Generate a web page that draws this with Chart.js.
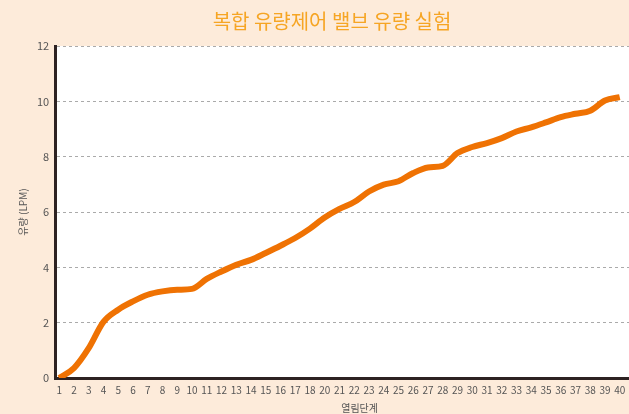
<!DOCTYPE html>
<html>
<head>
<meta charset="utf-8">
<script src="https://cdn.jsdelivr.net/npm/chart.js@4"></script>
<style>
  html, body { margin: 0; padding: 0; background: #FDEBDA; overflow: hidden; }
  #wrap { width: 629px; height: 414px; overflow: hidden; position: relative; }
  #box { width: 664px; height: 414px; }
</style>
</head>
<body>
<div id="wrap"><div id="box"><canvas id="c" width="664" height="414"></canvas></div></div>
<script>
const chartTitle = '복합 유량제어 밸브 유량 실험';
const xTitle = '열림단계';
const yTitle = '유량 (LPM)';
const stepLabels = ['1','2','3','4','5','6','7','8','9','10','11','12','13','14','15','16','17','18','20','21','22','23','24','25','26','27','28','29','30','31','32','33','34','35','36','37','38','39','40'];
const flowValues = [0.0,0.36,1.08,2.03,2.47,2.77,3.01,3.13,3.19,3.22,3.58,3.85,4.09,4.27,4.52,4.78,5.06,5.40,5.80,6.11,6.36,6.74,6.99,7.11,7.41,7.61,7.67,8.13,8.35,8.49,8.67,8.91,9.06,9.24,9.43,9.55,9.66,10.03,10.15];
const yTicks = [0,2,4,6,8,10,12];

const FONT = '"Noto Sans CJK KR", "Noto Sans", sans-serif';

const bgPlugin = {
  id: 'bg',
  beforeDraw(chart) {
    const { ctx, chartArea: a } = chart;
    ctx.save();
    ctx.fillStyle = '#FDEBDA';
    ctx.fillRect(0, 0, chart.width, chart.height);
    ctx.fillStyle = '#FFFFFF';
    ctx.fillRect(a.left, a.top, a.right - a.left, a.bottom - a.top);
    ctx.restore();
  }
};

new Chart(document.getElementById('c'), {
  type: 'line',
  data: {
    datasets: [{
      data: flowValues.map((v, i) => ({ x: i + 1, y: v })),
      borderColor: '#EF7203',
      borderWidth: 6,
      pointRadius: 0,
      cubicInterpolationMode: 'monotone',
      fill: false
    }]
  },
  options: {
    responsive: false,
    animation: false,
    layout: { padding: { left: 0, right: 0, top: 0, bottom: 0 } },
    plugins: {
      legend: { display: false },
      tooltip: { enabled: false },
      title: {
        display: true,
        text: chartTitle,
        color: '#F6A524',
        font: { family: FONT, size: 20, weight: 'normal' },
        padding: { top: 9, bottom: 13 }
      }
    },
    scales: {
      x: {
        type: 'linear',
        min: 0.73,
        max: 42,
        afterBuildTicks(scale) {
          scale.ticks = stepLabels.map((_, i) => ({ value: i + 1 }));
        },
        ticks: {
          autoSkip: false,
          maxRotation: 0,
          color: '#555',
          font: { family: FONT, size: 10 },
          padding: 6,
          callback: (v) => stepLabels[v - 1]
        },
        grid: { display: false, drawTicks: false },
        border: { display: true, color: '#2d2222', width: 3 },
        title: {
          display: true,
          text: xTitle,
          color: '#555',
          font: { family: FONT, size: 10 },
          padding: { top: 0, bottom: 0 }
        }
      },
      y: {
        min: 0,
        max: 12,
        afterBuildTicks(scale) {
          scale.ticks = yTicks.map(v => ({ value: v }));
        },
        ticks: {
          color: '#555',
          font: { family: FONT, size: 11 },
          padding: 6
        },
        grid: {
          color: '#aaaaaa',
          lineWidth: 1,
          drawTicks: false
        },
        border: { display: true, color: '#2d2222', width: 3, dash: [3, 3] },
        title: {
          display: true,
          text: yTitle,
          color: '#555',
          font: { family: FONT, size: 10 },
          padding: { top: 17, bottom: 2 }
        }
      }
    }
  },
  plugins: [bgPlugin]
});
</script>
</body>
</html>
